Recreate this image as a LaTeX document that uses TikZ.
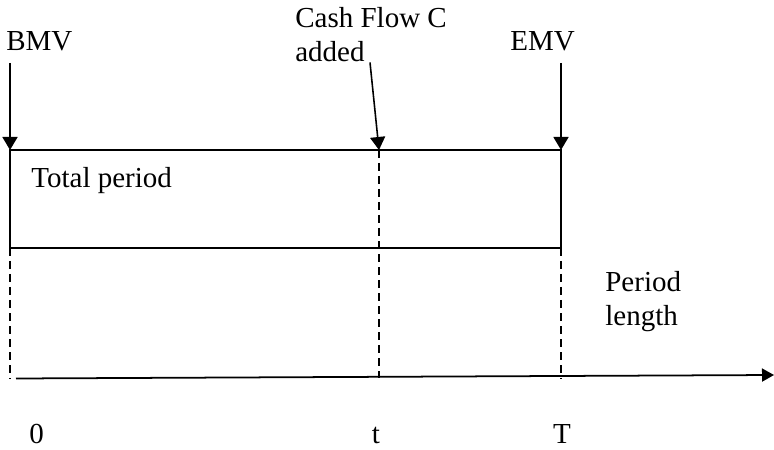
\documentclass[tikz,border=0pt]{standalone}
\usepackage{fontspec}
\setmainfont{Liberation Serif}
\usetikzlibrary{arrows.meta}
\tikzset{
	lbl/.style={inner sep=0pt, anchor=base west},
	pointer/.style={line width=.9pt, -{Triangle[length=.26cm, width=.3cm]}},
	guide/.style={line width=.8pt, dash pattern=on .16cm off .1cm},
}
\begin{document}
\begin{tikzpicture}[font=\fontsize{16.5}{19.3}\selectfont]
			\useasboundingbox (0,0) rectangle (15.48,8.98);
			\coordinate (s0) at (.2,5.98); \coordinate (st) at (7.58,5.98); \coordinate (sT) at (11.22,5.98);
			\coordinate (e0) at (.2,4.02); \coordinate (eT) at (11.22,4.02);
			\draw [line width=1.1pt] (s0) rectangle (eT); \node[lbl] (total) at (.62,5.22) {Total period};
			
			\node[lbl] (bmv) at (.12,7.96) {BMV}; \draw [pointer] ([yshift=-2.2mm]bmv.south -| s0) -- (s0);
			\node[lbl, anchor=north west, align=left] (cash) at (5.9,8.84) {Cash Flow C\\added};
			\coordinate (cashtail) at (7.4,7.73); \draw [pointer] (cashtail) -- (st);
			\node[lbl] (emv) at (10.2,7.96) {EMV}; \draw [pointer] ([yshift=-2.2mm]emv.south -| sT) -- (sT);
			
			\coordinate (a0) at (.32,1.41); \coordinate (a1) at (15.48,1.48);
			\draw [line width=1pt, -{Triangle[length=.24cm, width=.26cm]}] (a0) -- (a1);
			\draw [guide] (e0) -- (e0 |- a0); \draw [guide] (st) -- (st |- a0); \draw [guide] (eT) -- (eT |- a0);
			\node[lbl, anchor=north west, align=left] (len) at (12.1,3.56) {Period\\length};
			
			\node[lbl, anchor=base] (zero) at (.73,.12) {0};
			\node[lbl, anchor=base] (tt) at (7.52,.12) {t};
			\node[lbl, anchor=base] (tT) at (11.24,.12) {T};
\end{tikzpicture}
\end{document}
